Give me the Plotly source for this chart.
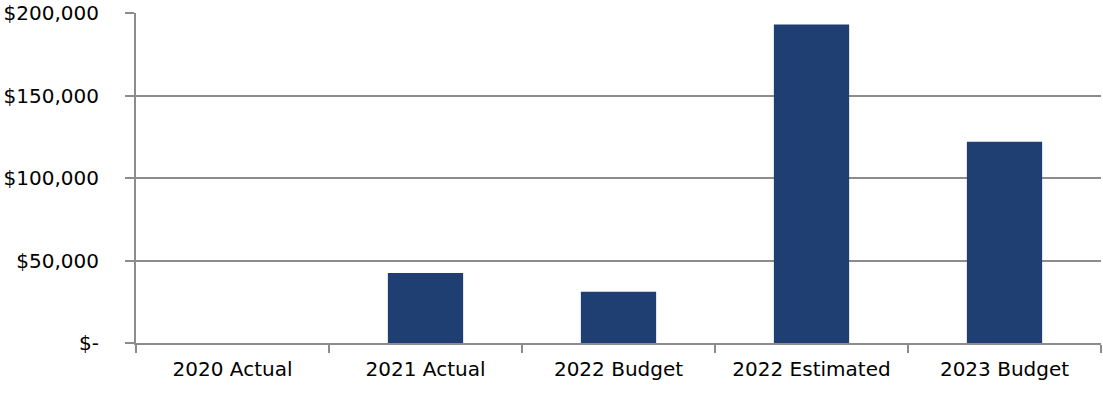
import plotly.graph_objects as go

categories = ["2020 Actual", "2021 Actual", "2022 Budget", "2022 Estimated", "2023 Budget"]
amounts = [0, 42500, 31000, 193000, 122000]
y_tickvals = [0, 50000, 100000, 150000, 200000]
y_ticktext = ["$-", "$50,000", "$100,000", "$150,000", "$200,000"]

fig = go.Figure()
fig.add_trace(go.Bar(x=categories, y=amounts, width=0.39,
                     marker=dict(color="#1f3e72", line=dict(width=0)),
                     showlegend=False))

fig.update_xaxes(type="category", showline=True, linewidth=2, linecolor="#8c8c8c",
                 ticks="outside", tickson="boundaries", ticklen=8, tickwidth=2, tickcolor="#8c8c8c",
                 tickfont=dict(family="DejaVu Sans", size=20, color="black"),
                 ticklabelstandoff=7, showgrid=False, automargin=False)
fig.update_yaxes(range=[0, 200000], tickvals=y_tickvals, ticktext=y_ticktext,
                 showline=True, linewidth=2, linecolor="#8c8c8c",
                 ticks="outside", ticklen=9, tickwidth=2, tickcolor="#8c8c8c",
                 showgrid=True, gridcolor="#8c8c8c", gridwidth=2,
                 tickfont=dict(family="DejaVu Sans", size=20, color="black"),
                 ticklabelstandoff=22, zeroline=False, automargin=False,
                 ticklabeloverflow="allow")

fig.update_layout(width=1103, height=394, plot_bgcolor="white", paper_bgcolor="white",
                  margin=dict(l=136, r=2, t=13, b=51), bargap=0.61)

# drop the default 8px body margin so the figure sits at the page corner
fig.write_html("out.html", config={"displayModeBar": False},
               post_script="document.body.style.margin = '0';")
